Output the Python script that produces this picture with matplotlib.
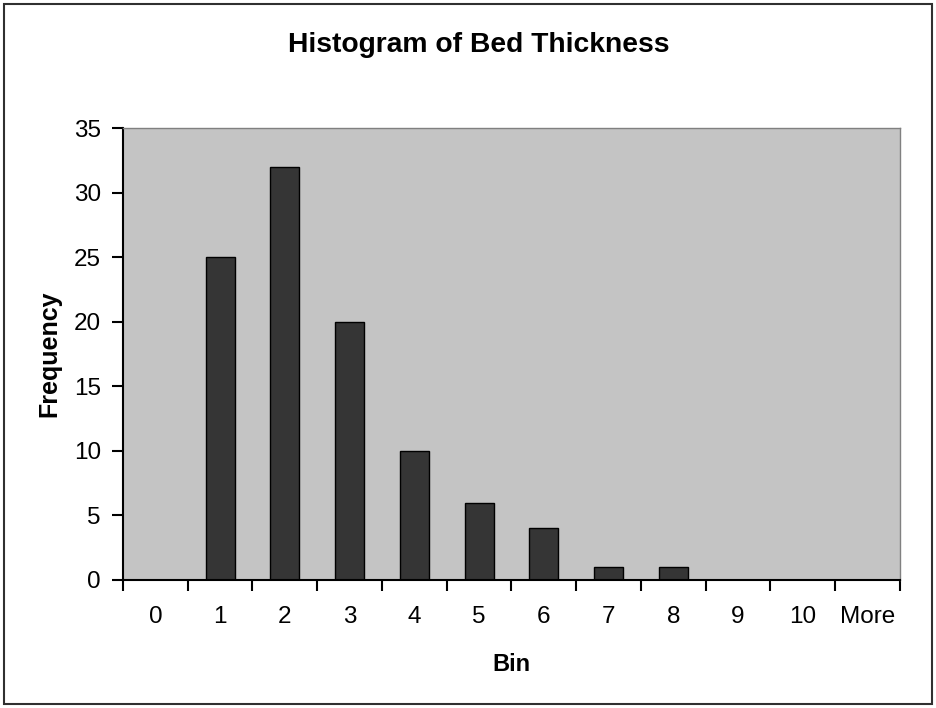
import numpy as np
import matplotlib.pyplot as plt
from matplotlib.patches import Rectangle

plt.rcParams['font.family'] = ['Liberation Sans', 'DejaVu Sans']

bins = ['0', '1', '2', '3', '4', '5', '6', '7', '8', '9', '10', 'More']
freq = [0, 25, 32, 20, 10, 6, 4, 1, 1, 0, 0, 0]

fig = plt.figure(figsize=(9.36, 7.08), dpi=100)
ax = fig.add_axes([0.1314, 0.1808, 0.8301, 0.6384])

x = np.arange(len(bins))
ax.bar(x, freq, width=0.45, color='#353535', edgecolor='black', linewidth=1)
ax.set_facecolor('#c4c4c4')

ax.set_xlim(-0.5, len(bins) - 0.5)
ax.set_ylim(0, 35)
ax.set_yticks(range(0, 36, 5))
ax.set_xticks(x)
ax.set_xticklabels(bins)
ax.set_xticks(np.arange(-0.5, len(bins)), minor=True)
ax.tick_params(axis='x', which='major', length=0, pad=19, labelsize=17.5)
ax.tick_params(axis='x', which='minor', length=8, width=1.5, direction='out')
ax.tick_params(axis='y', length=8, width=1.5, direction='out', labelsize=17.5, pad=8)

for s in ['left', 'bottom']:
    ax.spines[s].set_linewidth(1.5)
for s in ['top', 'right']:
    ax.spines[s].set_color('#808080')
    ax.spines[s].set_linewidth(1)

fig.text(0.512, 0.937, 'Histogram of Bed Thickness', ha='center', va='center',
         fontsize=20.3, fontweight='bold')
ax.set_xlabel('Bin', fontsize=17, fontweight='bold', labelpad=18)
ax.set_ylabel('Frequency', fontsize=18, fontweight='bold', labelpad=9)

fig.patches.append(Rectangle((4 / 936, 4 / 708), 928 / 936, 700 / 708,
                             transform=fig.transFigure, fill=False,
                             edgecolor='#303030', linewidth=1.5))

fig.savefig('out.png', dpi=100)
